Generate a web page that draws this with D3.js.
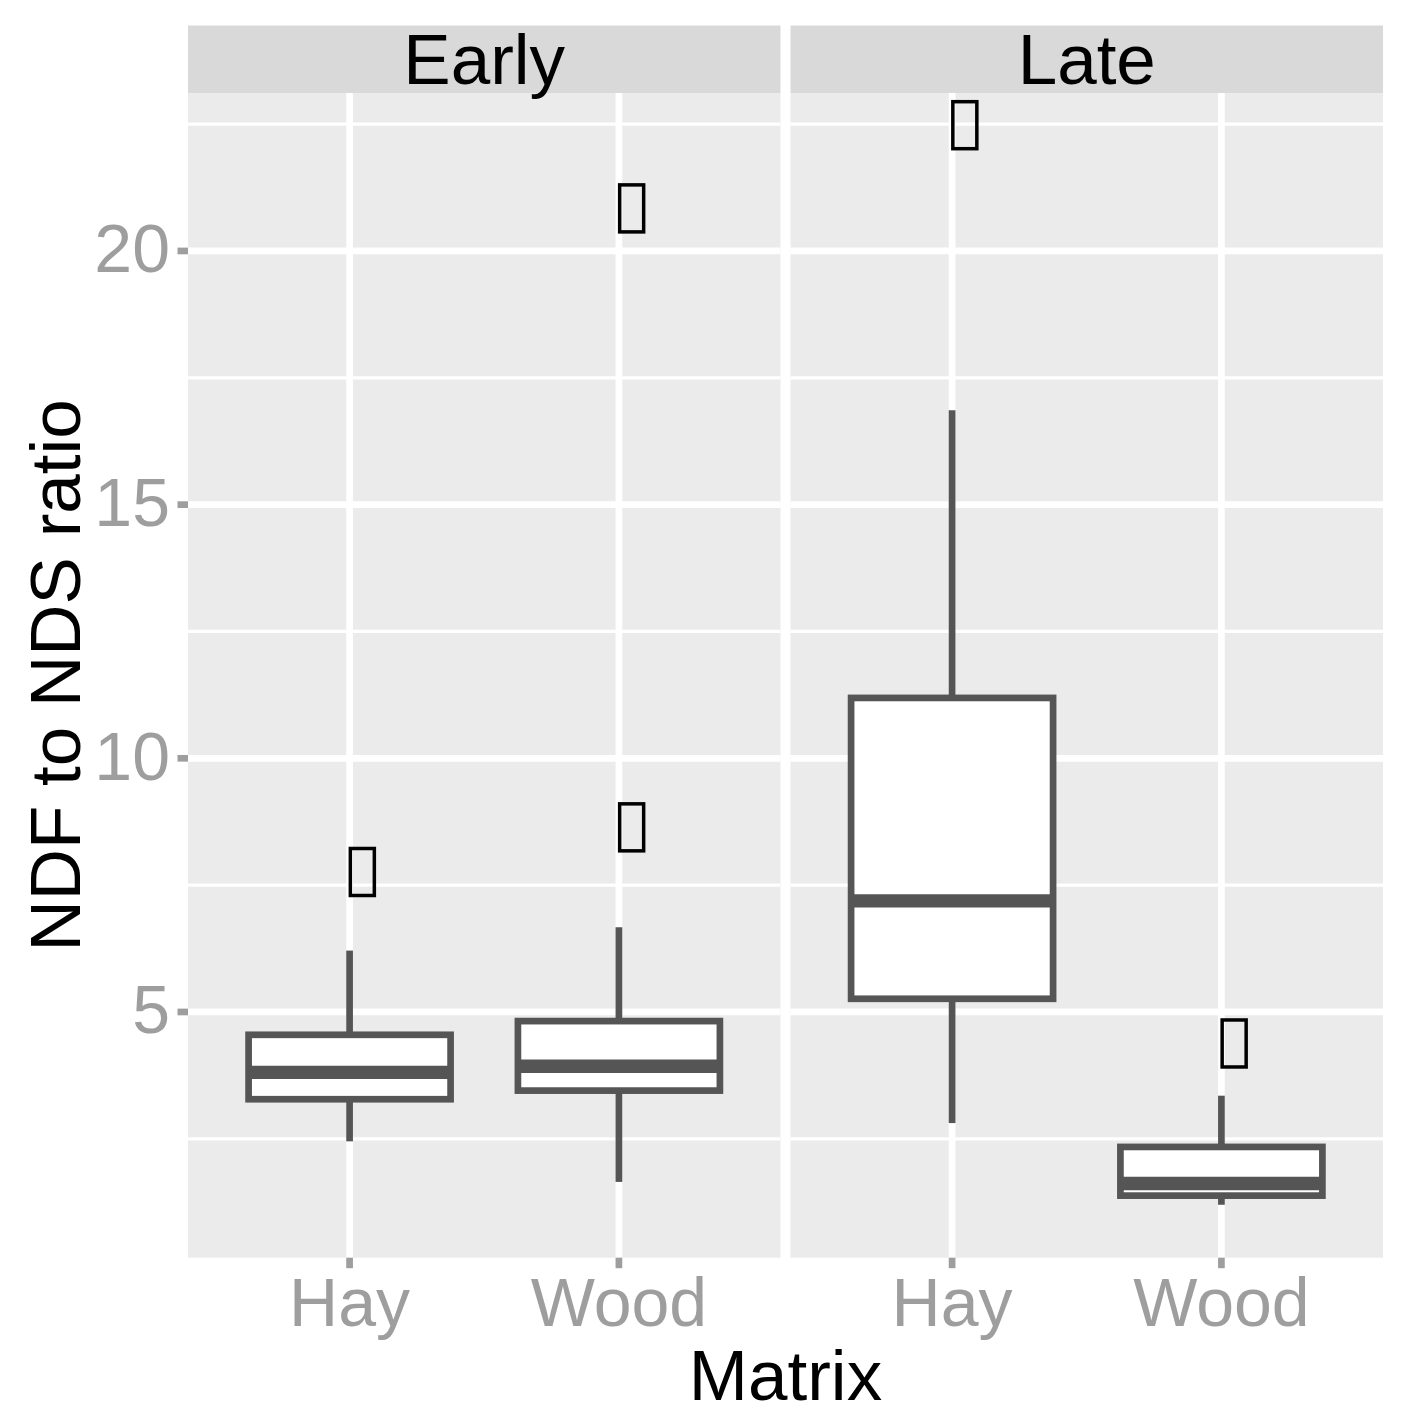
<!DOCTYPE html>
<html>
<head>
<meta charset="utf-8">
<script src="https://cdn.jsdelivr.net/npm/d3@7"></script>
<style>
  body { margin: 0; background: #fff; }
  svg { display: block; font-family: "Liberation Sans", Arial, sans-serif; }
</style>
</head>
<body>
<script>
// groups in drawing order: Early Hay, Early Wood, Late Hay, Late Wood
const periods = ["Early", "Late"];
const matrices = ["Hay", "Wood"];
const groupPeriod = ["Early", "Early", "Late", "Late"];
const groupMatrix = ["Hay", "Wood", "Hay", "Wood"];
const whiskerLow = [2.45, 1.65, 2.81, 1.20];
const q1 = [3.28, 3.45, 5.26, 1.38];
const median = [3.81, 3.93, 7.19, 1.62];
const q3 = [4.55, 4.82, 11.19, 2.34];
const whiskerHigh = [6.21, 6.67, 16.86, 3.35];
const outliers = [[7.35], [8.23, 20.43], [22.07], [3.97]];
const yTicks = [5, 10, 15, 20];
const yMinorTicks = [2.5, 7.5, 12.5, 17.5, 22.5];

const width = 1402, height = 1424;
const panelLeft = 188, panelRight = 1383, panelTop = 93, panelBottom = 1257.7;
const stripTop = 25.5, panelGap = 10;

const svg = d3.select("body").append("svg")
    .attr("width", width)
    .attr("height", height);

// facet panels
const panelStep = (panelRight - panelLeft + panelGap) / periods.length;
const fx = d3.scaleBand()
    .domain(periods)
    .range([panelLeft, panelRight])
    .paddingInner(panelGap / panelStep);
const pw = fx.bandwidth();

const x = d3.scalePoint()
    .domain(matrices)
    .range([0, pw])
    .padding(0.6);
const boxWidth = x.step() * 0.75;

// y range with ggplot style 5% expansion
const allVals = whiskerLow.concat(whiskerHigh, outliers.flat());
const lo = d3.min(allVals), hi = d3.max(allVals);
const pad = (hi - lo) * 0.05;
const y = d3.scaleLinear()
    .domain([lo - pad, hi + pad])
    .range([panelBottom, panelTop]);

const boxColor = "#555555";
const lw = 6.7;

periods.forEach(function(p) {
  let g = svg.append("g").attr("transform", `translate(${fx(p)},0)`);

  g.append("rect")
      .attr("x", 0).attr("y", panelTop)
      .attr("width", pw).attr("height", panelBottom - panelTop)
      .attr("fill", "#ebebeb");

  g.selectAll(".minor").data(yMinorTicks).enter().append("line")
      .attr("x1", 0).attr("x2", pw)
      .attr("y1", d => y(d)).attr("y2", d => y(d))
      .attr("stroke", "#fff").attr("stroke-width", 3.3);

  g.selectAll(".major").data(yTicks).enter().append("line")
      .attr("x1", 0).attr("x2", pw)
      .attr("y1", d => y(d)).attr("y2", d => y(d))
      .attr("stroke", "#fff").attr("stroke-width", lw);

  g.selectAll(".vgrid").data(matrices).enter().append("line")
      .attr("x1", d => x(d)).attr("x2", d => x(d))
      .attr("y1", panelTop).attr("y2", panelBottom)
      .attr("stroke", "#fff").attr("stroke-width", lw);

  // strip
  g.append("rect")
      .attr("x", 0).attr("y", stripTop)
      .attr("width", pw).attr("height", panelTop - stripTop)
      .attr("fill", "#d9d9d9");
  g.append("text")
      .attr("x", pw / 2).attr("y", 83.5)
      .attr("text-anchor", "middle")
      .attr("font-size", 71)
      .attr("fill", "#000")
      .text(p);

  // x ticks and labels
  g.selectAll(".xtick").data(matrices).enter().append("line")
      .attr("x1", d => x(d)).attr("x2", d => x(d))
      .attr("y1", panelBottom).attr("y2", panelBottom + 10.5)
      .attr("stroke", "#9e9e9e").attr("stroke-width", lw);
  g.selectAll(".xlabel").data(matrices).enter().append("text")
      .attr("x", d => x(d)).attr("y", 1326)
      .attr("text-anchor", "middle")
      .attr("font-size", 68)
      .attr("fill", "#9e9e9e")
      .text(d => d);
});

// boxes
const idx = d3.range(groupPeriod.length);
const bx = i => fx(groupPeriod[i]) + x(groupMatrix[i]);

const boxes = svg.append("g").selectAll("g").data(idx).enter().append("g");

boxes.append("line")
    .attr("x1", bx).attr("x2", bx)
    .attr("y1", i => y(q3[i])).attr("y2", i => y(whiskerHigh[i]))
    .attr("stroke", boxColor).attr("stroke-width", lw);
boxes.append("line")
    .attr("x1", bx).attr("x2", bx)
    .attr("y1", i => y(q1[i])).attr("y2", i => y(whiskerLow[i]))
    .attr("stroke", boxColor).attr("stroke-width", lw);
boxes.append("rect")
    .attr("x", i => bx(i) - boxWidth / 2)
    .attr("y", i => y(q3[i]))
    .attr("width", boxWidth)
    .attr("height", i => y(q1[i]) - y(q3[i]))
    .attr("fill", "#fff")
    .attr("stroke", boxColor).attr("stroke-width", lw);
boxes.append("line")
    .attr("x1", i => bx(i) - boxWidth / 2).attr("x2", i => bx(i) + boxWidth / 2)
    .attr("y1", i => y(median[i])).attr("y2", i => y(median[i]))
    .attr("stroke", boxColor).attr("stroke-width", lw * 2);

// outliers (drawn as the empty glyph boxes seen in the original)
const outPts = [];
idx.forEach(i => outliers[i].forEach(v => outPts.push({i: i, v: v})));
svg.append("g").selectAll("rect").data(outPts).enter().append("rect")
    .attr("x", d => bx(d.i) + 0.75)
    .attr("y", d => y(d.v) - 44.25)
    .attr("width", 24)
    .attr("height", 47)
    .attr("fill", "none")
    .attr("stroke", "#000")
    .attr("stroke-width", 3.5);

// y axis
const yAxis = svg.append("g");
yAxis.selectAll("line").data(yTicks).enter().append("line")
    .attr("x1", 177.5).attr("x2", panelLeft)
    .attr("y1", d => y(d)).attr("y2", d => y(d))
    .attr("stroke", "#9e9e9e").attr("stroke-width", lw);
yAxis.selectAll("text").data(yTicks).enter().append("text")
    .attr("x", 170).attr("y", d => y(d) + 21.5)
    .attr("text-anchor", "end")
    .attr("font-size", 68)
    .attr("fill", "#9e9e9e")
    .text(d => d);

// axis titles
svg.append("text")
    .attr("x", (panelLeft + panelRight) / 2).attr("y", 1400)
    .attr("text-anchor", "middle")
    .attr("font-size", 71)
    .attr("fill", "#000")
    .text("Matrix");
svg.append("text")
    .attr("transform", `translate(80,${(panelTop + panelBottom) / 2}) rotate(-90)`)
    .attr("text-anchor", "middle")
    .attr("font-size", 71)
    .attr("fill", "#000")
    .text("NDF to NDS ratio");
</script>
</body>
</html>
